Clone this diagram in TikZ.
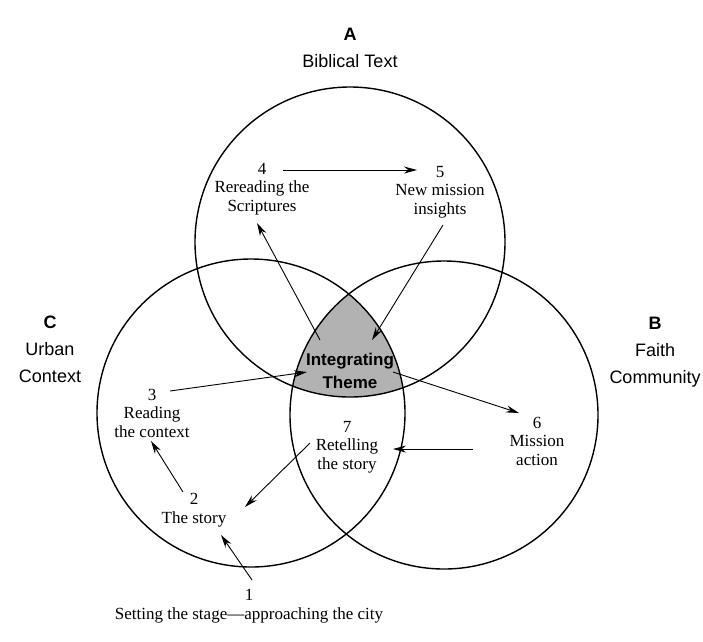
\documentclass[tikz,border=0pt]{standalone}
\usepackage{fontspec}
\setmainfont{Liberation Serif}
\newfontfamily\sansf{Liberation Sans}
\usetikzlibrary{arrows.meta}
\begin{document}
\begin{tikzpicture}[x=1pt,y=-1pt,
 ring/.style={draw=black, line width=1.4pt},
 arr/.style={-{Stealth[length=13pt,width=7pt]}, line width=0.9pt},
 lbl/.style={align=center, font=\fontsize{17}{18.5}\selectfont, inner sep=0pt},
 head/.style={align=center, font=\sansf\fontsize{18}{27}\selectfont, inner sep=0pt},
 theme/.style={align=center, font=\sansf\bfseries\fontsize{17}{23}\selectfont, inner sep=0pt},
]
\useasboundingbox[fill=white] (0,0) rectangle (703,641);
\coordinate (cA) at (350,242);
\coordinate (cB) at (444,415);
\coordinate (cC) at (251,413);
\begin{scope}
\clip (cA) circle[radius=155pt];
\clip (cB) circle[radius=154pt];
\fill[gray!60] (cC) circle[radius=154pt];
\end{scope}
\draw[ring] (cA) circle[radius=155pt];
\draw[ring] (cB) circle[radius=154pt];
\draw[ring] (cC) circle[radius=154pt];

\node[head] (la) at (350,48) {\textbf{A}\\Biblical Text};
\node[head] (lc) at (50,349) {\textbf{C}\\Urban\\Context};
\node[head] (lb) at (655,352) {\textbf{B}\\Faith\\Community};
\node[theme] (theme) at (350,371) {Integrating\\Theme};

\node[lbl] (n4) at (262,189) {4\\Rereading the\\Scriptures};
\node[lbl] (n5) at (440,192) {5\\New mission\\insights};
\node[lbl] (n3) at (152,413) {3\\Reading\\the context};
\node[lbl] (n6) at (537,441) {6\\Mission\\action};
\node[lbl] (n7) at (347,447) {7\\Retelling\\the story};
\node[lbl] (n2) at (194,510) {2\\The story};
\node[lbl] (n1) at (249,606) {1\\Setting the stage---approaching the city};

\coordinate (a45s) at (283,170); \coordinate (a45e) at (417,170);
\coordinate (at4s) at (320,340); \coordinate (at4e) at (257,223);
\coordinate (a5ts) at (443,225); \coordinate (a5te) at (372,340);
\coordinate (a3ts) at (170,391); \coordinate (a3te) at (307,372);
\coordinate (at6s) at (393,372); \coordinate (at6e) at (519,413);
\coordinate (a67s) at (473,449); \coordinate (a67e) at (393,449);
\coordinate (a72s) at (310,443); \coordinate (a72e) at (245,507);
\coordinate (a23s) at (183,492); \coordinate (a23e) at (151,441);
\coordinate (a12s) at (252,580); \coordinate (a12e) at (221,535);

\draw[arr] (a45s) -- (a45e);
\draw[arr] (at4s) -- (at4e);
\draw[arr] (a5ts) -- (a5te);
\draw[arr] (a3ts) -- (a3te);
\draw[arr] (at6s) -- (at6e);
\draw[arr] (a67s) -- (a67e);
\draw[arr] (a72s) -- (a72e);
\draw[arr] (a23s) -- (a23e);
\draw[arr] (a12s) -- (a12e);
\end{tikzpicture}
\end{document}
